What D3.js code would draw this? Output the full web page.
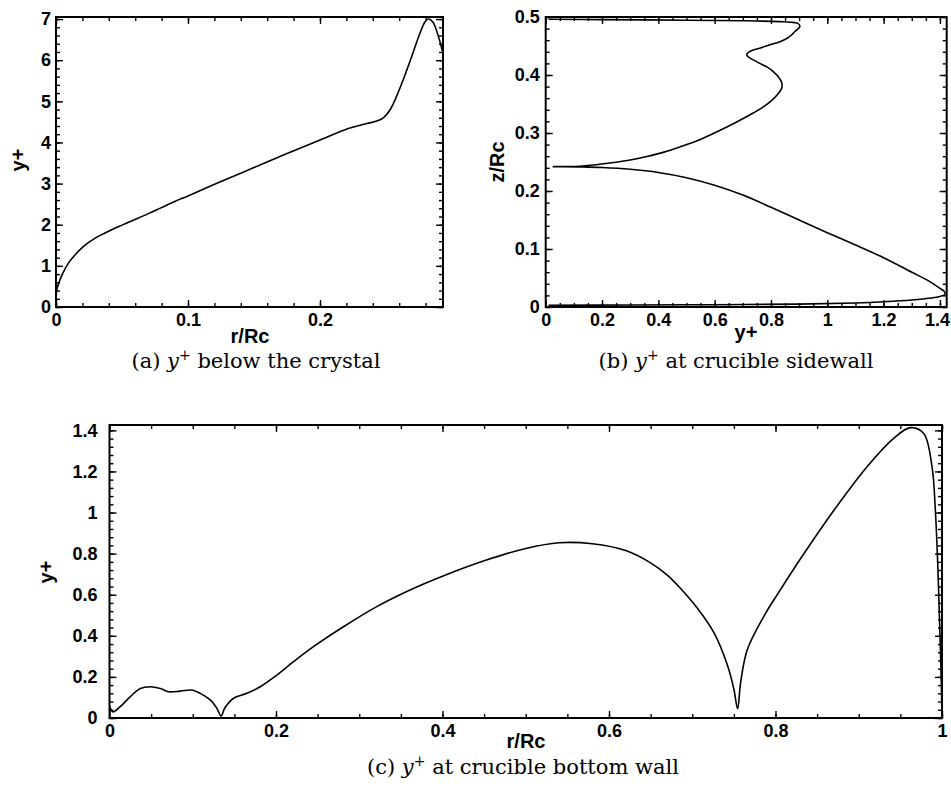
<!DOCTYPE html>
<html>
<head>
<meta charset="utf-8">
<script src="https://cdn.jsdelivr.net/npm/d3@7"></script>
<style>
body { margin: 0; background: #fff; }
.tick text { font-family: "Liberation Sans", Arial, sans-serif; font-weight: bold; font-size: 18px; fill: #000; }
.lab { font-family: "Liberation Sans", Arial, sans-serif; font-weight: bold; font-size: 20px; }
.cap { font-family: "DejaVu Serif", serif; font-size: 21px; }
</style>
</head>
<body>
<script>
// (a) y+ below the crystal
var aR = [0, 0.0008, 0.003, 0.0055, 0.0093, 0.0145, 0.0207, 0.03, 0.041, 0.05, 0.0586, 0.07, 0.0795, 0.09, 0.1,
          0.125, 0.15, 0.175, 0.2, 0.2227, 0.2354, 0.243, 0.248, 0.253, 0.258, 0.263, 0.2695, 0.2758, 0.2795,
          0.282, 0.2855, 0.289, 0.293];
var aY = [0.25, 0.45, 0.66, 0.84, 1.06, 1.27, 1.47, 1.68, 1.86, 1.99, 2.11, 2.27, 2.41, 2.565, 2.70,
          3.05, 3.39, 3.73, 4.06, 4.35, 4.46, 4.52, 4.6, 4.79, 5.12, 5.52, 6.09, 6.66, 6.93,
          7.0, 6.93, 6.65, 6.2];

// (b) y+ at crucible sidewall (traced from the bottom corner up to the free surface)
var bY = [0.01, 0.3, 0.6, 0.9, 1.1, 1.2, 1.3, 1.36, 1.40, 1.418, 1.415, 1.40, 1.36, 1.30, 1.2, 1.1, 1.0, 0.9, 0.8,
          0.7, 0.6, 0.5, 0.4, 0.3, 0.2, 0.12, 0.06, 0.027,
          0.06, 0.122, 0.18, 0.24, 0.30, 0.359, 0.42, 0.477, 0.54, 0.595, 0.645, 0.69, 0.735, 0.773, 0.805, 0.826,
          0.838, 0.838, 0.826, 0.808, 0.785, 0.76, 0.737, 0.72, 0.714, 0.722, 0.737, 0.765, 0.797, 0.83, 0.856,
          0.873, 0.885, 0.897, 0.903, 0.895, 0.87, 0.832, 0.714, 0.5, 0.2, 0.01];
var bZ = [0.003, 0.0035, 0.004, 0.005, 0.007, 0.009, 0.012, 0.015, 0.018, 0.022, 0.027, 0.032, 0.045, 0.06, 0.085,
          0.107, 0.128, 0.150, 0.172, 0.193, 0.210, 0.223, 0.232, 0.2375, 0.2405, 0.2416, 0.242, 0.242,
          0.2421, 0.2428, 0.2452, 0.249, 0.2535, 0.2595, 0.267, 0.276, 0.287, 0.299, 0.3107, 0.322, 0.334, 0.345,
          0.357, 0.368, 0.377, 0.387, 0.397, 0.406, 0.414, 0.42, 0.426, 0.431, 0.435, 0.44, 0.443, 0.447, 0.452,
          0.457, 0.463, 0.469, 0.475, 0.48, 0.484, 0.489, 0.491, 0.492, 0.4935, 0.4945, 0.4955, 0.496];

// (c) y+ at crucible bottom wall
var cR = [0, 0.004, 0.01, 0.015, 0.025, 0.037, 0.049, 0.061, 0.071, 0.085, 0.099, 0.109, 0.121, 0.129, 0.134, 0.138,
          0.141, 0.149, 0.165, 0.181, 0.201, 0.221, 0.245, 0.281, 0.321, 0.361, 0.40, 0.45, 0.50, 0.54, 0.58, 0.62,
          0.65, 0.67, 0.686, 0.706, 0.726, 0.742, 0.750, 0.7545, 0.758, 0.766, 0.786, 0.806, 0.830, 0.870, 0.910,
          0.942, 0.962, 0.978, 0.988, 0.992, 0.995, 0.997, 0.999, 1.0];
var cY = [0.06, 0.03, 0.045, 0.063, 0.104, 0.144, 0.152, 0.144, 0.128, 0.131, 0.136, 0.120, 0.088, 0.047, 0.01, 0.045,
          0.063, 0.096, 0.120, 0.152, 0.209, 0.274, 0.347, 0.444, 0.542, 0.623, 0.69, 0.765, 0.825, 0.853, 0.848, 0.815,
          0.755, 0.695, 0.63, 0.535, 0.415, 0.26, 0.14, 0.045, 0.169, 0.331, 0.495, 0.625, 0.775, 1.01, 1.223,
          1.361, 1.413, 1.385, 1.223, 1.012, 0.736, 0.477, 0.2, 0.0];

var aXTicks = [0, 0.1, 0.2], aYTicks = [0, 1, 2, 3, 4, 5, 6, 7];
var bXTicks = [0, 0.2, 0.4, 0.6, 0.8, 1, 1.2, 1.4], bYTicks = [0, 0.1, 0.2, 0.3, 0.4, 0.5];
var cXTicks = [0, 0.2, 0.4, 0.6, 0.8, 1], cYTicks = [0, 0.2, 0.4, 0.6, 0.8, 1, 1.2, 1.4];

var svg = d3.select("body").append("svg")
    .attr("width", 951)
    .attr("height", 791);

function steps(lo, hi, st) {
    var out = [];
    for (var v = lo; v <= hi + 1e-9; v += st) out.push(+v.toFixed(4));
    return out;
}

function panel(p) {
    var x = d3.scaleLinear().domain(p.xd).range([p.left, p.right]);
    var y = d3.scaleLinear().domain(p.yd).range([p.bottom, p.top]);
    var g = svg.append("g");
    var fmt = function(d) { return String(+d.toFixed(2)); };
    var xMinor = steps(0, p.xd[1], p.xm), yMinor = steps(0, p.yd[1], p.ym);

    function put(axis, tr) {
        var a = g.append("g").attr("transform", tr).call(axis);
        a.select(".domain").remove();
        a.selectAll("line").attr("stroke", "#000").attr("stroke-width", 1.4);
        return a;
    }
    // bottom / left carry the labels, top / right only the ticks
    var xa = put(d3.axisBottom(x).tickValues(p.xt).tickSize(-7).tickPadding(6).tickFormat(fmt), "translate(0," + p.bottom + ")");
    put(d3.axisBottom(x).tickValues(xMinor).tickSize(-4).tickFormat(""), "translate(0," + p.bottom + ")");
    put(d3.axisTop(x).tickValues(p.xt).tickSize(-7).tickFormat(""), "translate(0," + p.top + ")");
    put(d3.axisTop(x).tickValues(xMinor).tickSize(-4).tickFormat(""), "translate(0," + p.top + ")");
    put(d3.axisLeft(y).tickValues(p.yt).tickSize(-7).tickPadding(p.ypad).tickFormat(fmt), "translate(" + p.left + ",0)");
    put(d3.axisLeft(y).tickValues(yMinor).tickSize(-4).tickFormat(""), "translate(" + p.left + ",0)");
    put(d3.axisRight(y).tickValues(p.yt).tickSize(-7).tickFormat(""), "translate(" + p.right + ",0)");
    put(d3.axisRight(y).tickValues(yMinor).tickSize(-4).tickFormat(""), "translate(" + p.right + ",0)");

    // keep the last x label inside the page edge
    xa.selectAll(".tick text").each(function() {
        var b = this.getBBox(), m = this.getCTM();
        var over = m.e + b.x + b.width - 950;
        if (over > 0) d3.select(this).attr("dx", -over);
    });

    g.append("rect")
        .attr("x", p.left).attr("y", p.top)
        .attr("width", p.right - p.left).attr("height", p.bottom - p.top)
        .attr("fill", "none").attr("stroke", "#000").attr("stroke-width", 2);

    var line = d3.line()
        .x(function(d) { return x(d[0]); })
        .y(function(d) { return y(d[1]); })
        .curve(d3.curveCatmullRom.alpha(0.5));
    g.append("path")
        .datum(d3.zip(p.xs, p.ys))
        .attr("d", line)
        .attr("fill", "none").attr("stroke", "#000").attr("stroke-width", 1.6);

    g.append("text").attr("class", "lab")
        .attr("x", p.xlab[0]).attr("y", p.xlab[1])
        .attr("text-anchor", "middle").text(p.xlabel);
    g.append("text").attr("class", "lab")
        .attr("transform", "translate(" + p.ylab[0] + "," + p.ylab[1] + ") rotate(-90)")
        .attr("text-anchor", "middle").text(p.ylabel);

    var cap = g.append("text").attr("class", "cap")
        .attr("x", p.cap[0]).attr("y", p.cap[1]).attr("text-anchor", "middle");
    cap.append("tspan").text(p.capLetter + " ");
    cap.append("tspan").attr("font-style", "italic").text("y");
    cap.append("tspan").attr("dy", -8).attr("font-size", 14).text("+");
    cap.append("tspan").attr("dy", 8).text(" " + p.capText);
}

panel({
    xd: [0, 0.2932], yd: [0, 7.05], left: 56, right: 443, top: 17, bottom: 307, ypad: 5,
    xt: aXTicks, yt: aYTicks, xm: 0.02, ym: 0.2, xs: aR, ys: aY,
    xlabel: "r/Rc", xlab: [250, 343], ylabel: "y+", ylab: [25, 160],
    capLetter: "(a)", capText: "below the crystal", cap: [256, 368]
});
panel({
    xd: [0, 1.424], yd: [0, 0.5], left: 545.7, right: 946.7, top: 17, bottom: 307, ypad: 6,
    xt: bXTicks, yt: bYTicks, xm: 0.05, ym: 0.02, xs: bY, ys: bZ,
    xlabel: "y+", xlab: [746, 339], ylabel: "z/Rc", ylab: [504, 162],
    capLetter: "(b)", capText: "at crucible sidewall", cap: [736, 368]
});
panel({
    xd: [0, 1], yd: [0, 1.426], left: 109.5, right: 942, top: 425, bottom: 718, ypad: 12,
    xt: cXTicks, yt: cYTicks, xm: 0.05, ym: 0.04, xs: cR, ys: cY,
    xlabel: "r/Rc", xlab: [526, 748], ylabel: "y+", ylab: [53, 572],
    capLetter: "(c)", capText: "at crucible bottom wall", cap: [523, 774]
});
</script>
</body>
</html>
